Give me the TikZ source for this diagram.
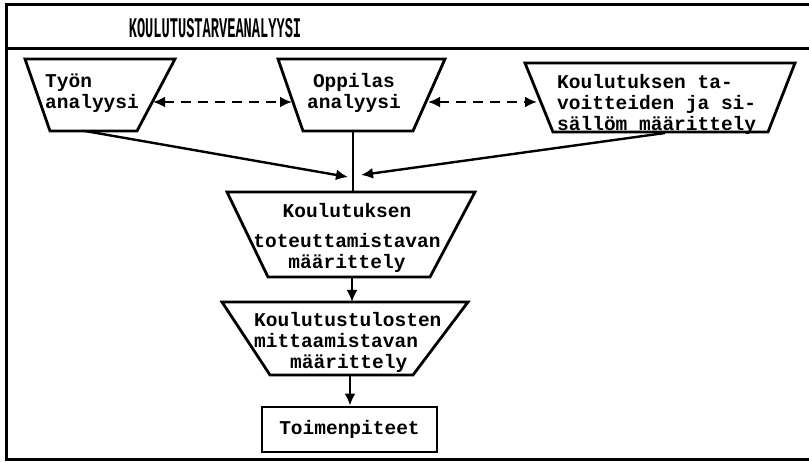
\documentclass[tikz,border=0pt]{standalone}
\usepackage{fontspec}
\setmonofont{Liberation Mono}
\newfontfamily\headfont{Liberation Mono}[FakeStretch=0.48]
\usetikzlibrary{arrows.meta}

\tikzset{
  frameline/.style={line width=3pt, line cap=rect},
  boxline/.style={line width=2.8pt, line join=miter},
  boxtext/.style={inner sep=0pt, font=\ttfamily\bfseries\fontsize{19.5}{21}\selectfont},
  flow/.style={line width=2.4pt, -{Latex[length=12pt,width=11pt]}},
  link/.style={line width=2.4pt, dash pattern=on 10pt off 7pt,
    {Latex[length=12pt,width=11pt]}-{Latex[length=12pt,width=11pt]}},
}

\begin{document}
\begin{tikzpicture}[x=1pt, y=-1pt]
\useasboundingbox (0,0) rectangle (809,462);

% outer frame and header band
\draw[frameline] (809,5) -- (6,5) -- (6,459) -- (809,459);
\draw[frameline] (6,49) -- (809,49);
\node[inner sep=0pt, font=\headfont\bfseries\fontsize{28.5}{28.5}\selectfont] (title) at (215,28) {KOULUTUSTARVEANALYYSI};

% top row of trapezoids
\draw[boxline] (25,59) coordinate (a1) -- (175,59) coordinate (a2)
  -- (137,131) coordinate (a3) -- (50,131) coordinate (a4) -- cycle;
\node[boxtext, anchor=west, align=left] (tyon) at (45,93) {Työn\\analyysi};

\draw[boxline] (278,59) coordinate (b1) -- (445,59) coordinate (b2)
  -- (413,131) coordinate (b3) -- (303,131) coordinate (b4) -- cycle;
\node[boxtext, align=center] (oppilas) at (354,93) {Oppilas\\analyysi};

\draw[boxline] (525,63) coordinate (c1) -- (795,63) coordinate (c2)
  -- (768,132) coordinate (c3) -- (553,132) coordinate (c4) -- cycle;
\node[boxtext, anchor=west, align=left] (tavoitteet) at (557,104)
  {Koulutuksen ta-\\voitteiden ja si-\\sällöm määrittely};

% middle trapezoids
\draw[boxline] (227,192) coordinate (d1) -- (475,192) coordinate (d2)
  -- (430,277) coordinate (d3) -- (268,277) coordinate (d4) -- cycle;
\node[boxtext, align=center] (toteutus) at (347,238)
  {Koulutuksen\\[9pt]toteuttamistavan\\määrittely};

\draw[boxline] (222,302) coordinate (e1) -- (468,302) coordinate (e2)
  -- (413,375) coordinate (e3) -- (270,375) coordinate (e4) -- cycle;
\node[boxtext, anchor=west, align=left] (mittaus) at (254,342)
  {Koulutustulosten\\mittaamistavan\\\hspace*{36pt}määrittely};

% final box
\node[boxtext, draw, line width=2.8pt, minimum width=175pt, minimum height=45pt]
  (toimet) at (349.5,429.5) {Toimenpiteet};

% connector end points
\coordinate (tyonR)  at (153,102);
\coordinate (oppL)   at (292,102);
\coordinate (oppR)   at (428,102);
\coordinate (tavL)   at (537,102);
\coordinate (tyonB)  at (85,131);
\coordinate (oppB)   at (353,131);
\coordinate (tavB)   at (665,133);
\coordinate (meetL)  at (348,177);
\coordinate (meetR)  at (361,175);
\coordinate (totT)   at (353,192);
\coordinate (totB)   at (352,277);
\coordinate (mitT)   at (352,302);
\coordinate (mitB)   at (350,375);

% interaction between the analyses
\draw[link] (tyonR) -- (oppL);
\draw[link] (oppR) -- (tavL);

% flow downwards
\draw[line width=2.4pt] (oppB) -- (totT);
\draw[flow] (tyonB) -- (meetL);
\draw[flow] (tavB) -- (meetR);
\draw[flow] (totB) -- (mitT);
\draw[flow] (mitB) -- (toimet.north -| mitB);
\end{tikzpicture}
\end{document}
